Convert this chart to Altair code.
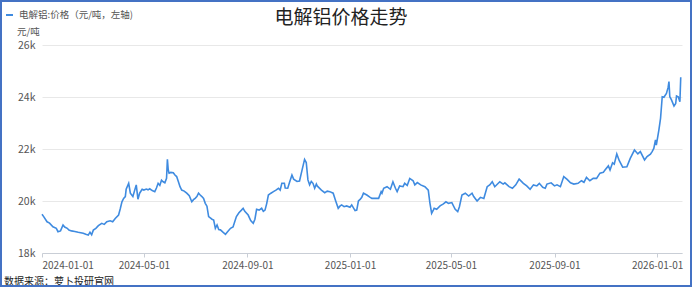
import altair as alt
import pandas as pd

# Electrolytic aluminium spot price, CNY per tonne
dates_2024 = [
    "2024-01-01", "2024-01-03", "2024-01-07", "2024-01-10", "2024-01-14", "2024-01-18",
    "2024-01-20", "2024-01-23", "2024-01-26", "2024-01-28", "2024-01-31", "2024-02-02",
    "2024-02-05", "2024-02-09", "2024-02-13", "2024-02-19", "2024-02-22", "2024-02-25",
    "2024-02-27", "2024-02-29", "2024-03-02", "2024-03-05", "2024-03-08", "2024-03-12",
    "2024-03-15", "2024-03-18", "2024-03-22", "2024-03-25", "2024-03-28", "2024-04-01",
    "2024-04-03", "2024-04-05", "2024-04-07", "2024-04-09", "2024-04-10", "2024-04-13",
    "2024-04-15", "2024-04-18", "2024-04-22", "2024-04-24", "2024-04-26", "2024-04-29",
    "2024-05-01", "2024-05-04", "2024-05-06", "2024-05-08", "2024-05-11", "2024-05-14",
    "2024-05-16", "2024-05-18", "2024-05-20", "2024-05-22", "2024-05-24", "2024-05-26",
    "2024-05-28", "2024-05-29", "2024-05-30", "2024-05-31", "2024-06-02", "2024-06-05",
    "2024-06-07", "2024-06-09", "2024-06-11", "2024-06-13", "2024-06-15", "2024-06-18",
    "2024-06-21", "2024-06-24", "2024-06-27", "2024-06-29", "2024-07-01", "2024-07-03",
    "2024-07-05", "2024-07-07", "2024-07-09", "2024-07-11", "2024-07-13", "2024-07-15",
    "2024-07-17", "2024-07-19", "2024-07-21", "2024-07-23", "2024-07-25", "2024-07-27",
    "2024-07-29", "2024-07-31", "2024-08-03", "2024-08-06", "2024-08-08", "2024-08-12",
    "2024-08-15", "2024-08-17", "2024-08-19", "2024-08-22", "2024-08-25", "2024-08-27",
    "2024-08-29", "2024-09-02", "2024-09-05", "2024-09-08", "2024-09-10", "2024-09-12",
    "2024-09-15", "2024-09-18", "2024-09-20", "2024-09-22", "2024-09-24", "2024-09-26",
    "2024-09-29", "2024-10-02", "2024-10-05", "2024-10-08", "2024-10-10", "2024-10-12",
    "2024-10-15", "2024-10-16", "2024-10-19", "2024-10-21", "2024-10-24", "2024-10-26",
    "2024-10-30", "2024-11-02", "2024-11-05", "2024-11-08", "2024-11-10", "2024-11-12",
    "2024-11-14", "2024-11-16", "2024-11-18", "2024-11-20", "2024-11-22", "2024-11-23",
    "2024-11-28", "2024-12-02", "2024-12-05", "2024-12-08", "2024-12-12", "2024-12-15",
    "2024-12-18", "2024-12-20", "2024-12-22", "2024-12-25", "2024-12-28",
]
prices_2024 = [
    19490, 19400, 19200, 19150, 19010, 18950,
    18820, 18850, 19080, 19000, 18950, 18880,
    18850, 18830, 18800, 18760, 18720, 18690,
    18800, 18700, 18880, 18950, 19050, 19140,
    19100, 19200, 19240, 19200, 19330, 19460,
    19700, 19970, 20100, 20170, 20450, 20680,
    20300, 20170, 20620, 20070, 20300, 20450,
    20420, 20460, 20430, 20470, 20400, 20360,
    20500, 20680, 20600, 20800, 20740, 20700,
    20870, 21600, 21200, 21070, 21100, 21090,
    21000, 20940, 20750, 20550, 20420, 20380,
    20300, 20200, 19970, 20050, 20100, 20170,
    20300, 20230, 20170, 20100, 19910, 19800,
    19400, 19350, 19300, 19270, 18950, 19080,
    18900, 18890, 18800, 18720, 18800, 18950,
    19000, 19200, 19400, 19550, 19650, 19720,
    19600, 19460, 19250, 19140, 19300, 19680,
    19650, 19720, 19600, 19650, 19900, 20230,
    20300, 20360, 20420, 20490, 20420, 20680,
    20680, 20500, 20490, 20700, 21000, 20840,
    20750, 20770, 21190, 21600, 21480, 20810,
    20620, 20750, 20680, 20490, 20650, 20580,
    20420, 20320, 20380, 20360, 20300, 20000,
    19720, 19800, 19850, 19780, 19810,
]

dates_2025 = [
    "2025-01-01", "2025-01-03", "2025-01-07", "2025-01-09", "2025-01-11", "2025-01-13",
    "2025-01-15", "2025-01-17", "2025-01-21", "2025-01-25", "2025-01-27", "2025-01-31",
    "2025-02-04", "2025-02-07", "2025-02-08", "2025-02-10", "2025-02-14", "2025-02-18",
    "2025-02-21", "2025-02-24", "2025-02-26", "2025-03-01", "2025-03-05", "2025-03-07",
    "2025-03-10", "2025-03-13", "2025-03-17", "2025-03-19", "2025-03-22", "2025-03-26",
    "2025-03-31", "2025-04-04", "2025-04-06", "2025-04-08", "2025-04-10", "2025-04-11",
    "2025-04-14", "2025-04-18", "2025-04-22", "2025-04-25", "2025-04-28", "2025-05-02",
    "2025-05-06", "2025-05-09", "2025-05-11", "2025-05-14", "2025-05-18", "2025-05-22",
    "2025-05-26", "2025-05-28", "2025-06-01", "2025-06-05", "2025-06-09", "2025-06-13",
    "2025-06-16", "2025-06-19", "2025-06-22", "2025-06-28", "2025-07-02", "2025-07-04",
    "2025-07-09", "2025-07-13", "2025-07-17", "2025-07-21", "2025-07-26", "2025-07-30",
    "2025-08-03", "2025-08-07", "2025-08-11", "2025-08-14", "2025-08-18", "2025-08-21",
    "2025-08-23", "2025-08-28", "2025-09-01", "2025-09-04", "2025-09-08", "2025-09-12",
    "2025-09-16", "2025-09-20", "2025-09-24", "2025-09-29", "2025-10-03", "2025-10-06",
    "2025-10-09", "2025-10-13", "2025-10-17", "2025-10-21", "2025-10-25", "2025-10-29",
    "2025-10-31", "2025-11-04", "2025-11-06", "2025-11-09", "2025-11-11", "2025-11-14",
    "2025-11-17", "2025-11-21", "2025-11-26", "2025-11-30", "2025-12-05", "2025-12-09",
    "2025-12-12", "2025-12-17", "2025-12-20", "2025-12-24", "2025-12-26", "2025-12-28",
    "2025-12-30", "2025-12-31",
]
prices_2025 = [
    19760, 19850, 19630, 19650, 20000, 20060,
    20140, 20300, 20230, 20140, 20100, 20100,
    20100, 20360, 20300, 20490, 20550, 20450,
    20740, 20490, 20360, 20580, 20550, 20680,
    20600, 20870, 20780, 20620, 20710, 20620,
    20550, 20420, 19910, 19530, 19650, 19720,
    19680, 19810, 19890, 19970, 19910, 19940,
    19680, 19590, 19780, 20230, 20300, 20190,
    20300, 20170, 20000, 20140, 20100, 20550,
    20620, 20740, 20550, 20740, 20650, 20700,
    20550, 20490, 20620, 20840, 20680, 20580,
    20450, 20620, 20580, 20680, 20530, 20490,
    20650, 20700, 20580, 20620, 20550, 20940,
    20830, 20700, 20650, 20680, 20780, 20720,
    20910, 20780, 20870, 20870, 21070, 21100,
    21190, 21350, 21190, 21470, 21420, 21810,
    21550, 21300, 21320, 21640, 21960, 21810,
    21900, 21580, 21710, 21800, 21900, 22020,
    22350, 22150,
]

dates_2026 = [
    "2026-01-03", "2026-01-05", "2026-01-07", "2026-01-09", "2026-01-12", "2026-01-14",
    "2026-01-15", "2026-01-16", "2026-01-18", "2026-01-21", "2026-01-23", "2026-01-24",
    "2026-01-26", "2026-01-28", "2026-01-29",
]
prices_2026 = [
    22730, 23180, 24010, 23990, 24140, 24370,
    24590, 24010, 23890, 23650, 23750, 24040,
    24010, 23820, 24760,
]

tick_dates = ["2024-01-01", "2024-05-01", "2024-09-01", "2025-01-01",
              "2025-05-01", "2025-09-01", "2026-01-01"]
y_ticks = [18000, 20000, 22000, 24000, 26000]

chart_title = "电解铝价格走势"
legend_label = "电解铝:价格（元/吨，左轴)"
unit_label = "元/吨"
source_label = "数据来源：萝卜投研官网"

FONT = "Noto Sans CJK SC"
LINE_BLUE = "#3f8be0"
FRAME_BLUE = "#4472c4"


def to_dt(s):
    y, m, d = (int(p) for p in s.split("-"))
    return alt.DateTime(year=y, month=m, date=d, utc=True)


df = pd.DataFrame({
    "date": dates_2024 + dates_2025 + dates_2026,
    "price": prices_2024 + prices_2025 + prices_2026,
})

x_enc = alt.X(
    "date:T",
    scale=alt.Scale(type="utc", domain=[to_dt("2024-01-01"), alt.DateTime(year=2026, month=1, date=30, hours=12, utc=True)]),
    axis=alt.Axis(
        values=[to_dt(s) for s in tick_dates],
        format="%Y-%m-%d",
        title=None,
        grid=False,
        domainColor="#c9ced6",
        tickColor="#c9ced6",
        tickSize=4,
        labelPadding=3,
        labelFontSize=10,
        labelColor="#555555",
        labelFont=FONT,
    ),
)
y_enc = alt.Y(
    "price:Q",
    scale=alt.Scale(domain=[18000, 26000], nice=False, zero=False),
    axis=alt.Axis(
        values=y_ticks,
        format="~s",
        title=None,
        domain=False,
        ticks=False,
        gridColor="#e8e8e8",
        labelPadding=7,
        labelFontSize=10.5,
        labelColor="#555555",
        labelFont=FONT,
    ),
)

line = alt.Chart(df).mark_line(color=LINE_BLUE, strokeWidth=1.6).encode(x=x_enc, y=y_enc)

one = alt.Data(values=[{}])


def label(text, x, y, size, color, align="left", weight="normal"):
    return alt.Chart(one).mark_text(
        text=text, align=align, baseline="middle", font=FONT,
        fontSize=size, color=color, fontWeight=weight,
    ).encode(x=alt.value(x), y=alt.value(y))


title_mark = label(chart_title, 299, -27, 19, "#222222", align="center")
legend_key = alt.Chart(one).mark_rule(color=LINE_BLUE, strokeWidth=2).encode(
    x=alt.value(-36), x2=alt.value(-29), y=alt.value(-30)
)
legend_text = label(legend_label, -23, -30, 9.5, "#555555")
unit_text = label(unit_label, -25, -13, 9.5, "#555555")
source_text = label(source_label, -38, 237, 10, "#222222")

frame = alt.Chart(one).mark_rect(
    fillOpacity=0, stroke=FRAME_BLUE, strokeWidth=2
).encode(x=alt.value(-41), x2=alt.value(649), y=alt.value(-44), y2=alt.value(241))

chart = alt.layer(
    line, title_mark, legend_key, legend_text, unit_text, source_text, frame
).properties(
    width=640,
    height=208,
    padding={"left": 42, "top": 45, "right": 13, "bottom": 35},
    autosize=alt.AutoSizeParams(type="none"),
    background="#ffffff",
).configure_view(stroke=None)

chart.save("out.html", embed_options={"renderer": "svg", "actions": False})
